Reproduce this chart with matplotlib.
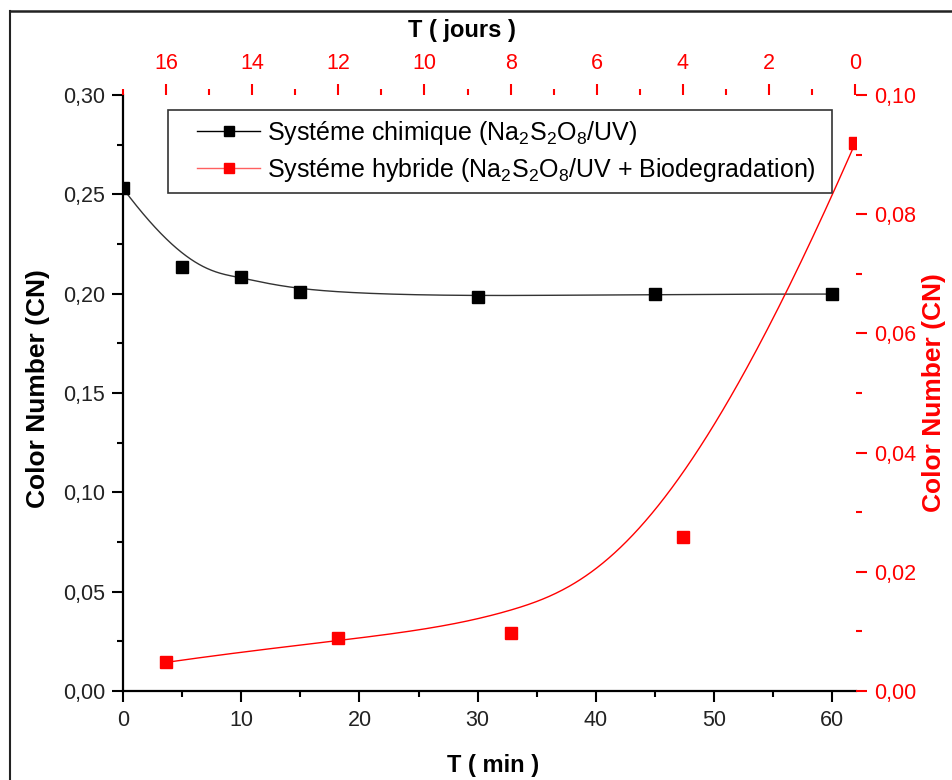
import numpy as np
import matplotlib
matplotlib.use("Agg")
import matplotlib.pyplot as plt
from matplotlib.lines import Line2D
from matplotlib.legend_handler import HandlerLine2D
from matplotlib.ticker import FuncFormatter, MultipleLocator

plt.rcParams['font.family'] = ['Liberation Sans', 'DejaVu Sans']
plt.rcParams['mathtext.fontset'] = 'custom'
plt.rcParams['mathtext.rm'] = 'Liberation Sans'
plt.rcParams['mathtext.it'] = 'Liberation Sans:italic'

# chemical system (Na2S2O8/UV), time in minutes
t_min = [0, 5, 10, 15, 30, 45, 60]
cn_chim = [0.253, 0.2133, 0.2085, 0.2008, 0.1983, 0.1998, 0.1998]

# hybrid system (+ biodegradation), time in days
t_jours = [16, 12, 8, 4, 0]
cn_hyb = [0.0048, 0.0089, 0.0098, 0.0258, 0.0919]

lbl_chim = "Systéme chimique (Na$_2$S$_2$O$_8$/UV)"
lbl_hyb = "Systéme hybride (Na$_2$S$_2$O$_8$/UV + Biodegradation)"

RED = "#ff0000"


def comma(fmt):
    return FuncFormatter(lambda v, p: format(v, fmt).replace('.', ','))


def bspline(xc, yc, n=400, k=3):
    # clamped uniform B-spline using the data points as control points
    P = np.column_stack([xc, yc]).astype(float)
    m = len(P)
    knots = np.concatenate([np.zeros(k), np.linspace(0, 1, m - k + 1), np.ones(k)])
    u = np.linspace(0, 1, n)
    N = np.zeros((n, len(knots) - 1))
    for i in range(len(knots) - 1):
        N[:, i] = (knots[i] <= u) & (u < knots[i + 1])
    N[u >= 1, m - 1] = 1
    for d in range(1, k + 1):
        Nn = np.zeros((n, len(knots) - 1 - d))
        for i in range(len(knots) - 1 - d):
            a = knots[i + d] - knots[i]
            b = knots[i + d + 1] - knots[i + 1]
            left = (u - knots[i]) / a * N[:, i] if a > 0 else 0
            right = (knots[i + d + 1] - u) / b * N[:, i + 1] if b > 0 else 0
            Nn[:, i] = left + right
        N = Nn
    C = N @ P
    return C[:, 0], C[:, 1]


class IndentedLine(HandlerLine2D):
    # legend sample line pushed a bit to the right inside its slot
    indent = 15

    def create_artists(self, legend, orig_handle, xdescent, ydescent,
                       width, height, fontsize, trans):
        return super().create_artists(legend, orig_handle, xdescent - self.indent,
                                      ydescent, width - self.indent, height,
                                      fontsize, trans)


fig = plt.figure(figsize=(9.52, 7.8), dpi=100)
pos = [123 / 952, 89 / 780, 733 / 952, 596 / 780]

ax = fig.add_axes(pos)
ax_r = fig.add_axes(pos, frameon=False)
ax_r.patch.set_visible(False)

# black series: bottom / left axes
bx, by = bspline(t_min, cn_chim)
ax.plot(bx, by, color="#333333", lw=1.0)
ax.plot(t_min, cn_chim, ls="none", marker="s", ms=8.5, color="black")
ax.set_xlim(0, 62.0)
ax.set_ylim(0, 0.30)

# red series: top / right axes
rx, ry = bspline(t_jours, cn_hyb)
ax_r.plot(rx, ry, color=RED, lw=1.0)
ax_r.plot(t_jours, cn_hyb, ls="none", marker="s", ms=8.5, color=RED)
ax_r.set_xlim(17.0, -0.02)
ax_r.set_ylim(0, 0.10)

# spines
for s in ("top", "right"):
    ax.spines[s].set_visible(False)
for s in ("left", "bottom"):
    ax.spines[s].set_linewidth(1.6)
ax_r.xaxis.tick_top()
ax_r.yaxis.tick_right()
ax_r.xaxis.set_label_position("top")
ax_r.yaxis.set_label_position("right")
for s in ("top", "right"):
    ax_r.spines[s].set_visible(True)
    ax_r.spines[s].set_color(RED)
    ax_r.spines[s].set_linewidth(1.6)
for s in ("left", "bottom"):
    ax_r.spines[s].set_visible(False)

# ticks
ax.xaxis.set_major_locator(MultipleLocator(10))
ax.xaxis.set_minor_locator(MultipleLocator(5))
ax.yaxis.set_major_locator(MultipleLocator(0.05))
ax.yaxis.set_minor_locator(MultipleLocator(0.025))
ax.yaxis.set_major_formatter(comma(".2f"))
ax.tick_params(which="both", direction="out", width=1.5, labelsize=15.5,
               color="black", labelcolor="#222222")
ax.tick_params(which="major", length=8)
ax.tick_params(which="minor", length=4.5)
ax.tick_params(axis="x", pad=6)
ax.tick_params(axis="y", pad=5)

ax_r.xaxis.set_major_locator(MultipleLocator(2))
ax_r.xaxis.set_minor_locator(MultipleLocator(1))
ax_r.yaxis.set_major_locator(MultipleLocator(0.02))
ax_r.yaxis.set_minor_locator(MultipleLocator(0.01))
ax_r.yaxis.set_major_formatter(comma(".2f"))
ax_r.tick_params(which="both", direction="out", width=1.5, labelsize=15.5,
                 color=RED, labelcolor=RED)
ax_r.tick_params(which="major", length=8)
ax_r.tick_params(which="minor", length=4.5)
ax_r.tick_params(axis="x", pad=7)
ax_r.tick_params(axis="y", pad=5)

# labels
ax.set_xlabel("T ( min )", fontsize=17, fontweight="bold")
ax.xaxis.set_label_coords(0.505, -0.105)
ax.set_ylabel("Color Number (CN)", fontsize=19, fontweight="bold")
ax.yaxis.set_label_coords(-0.100, 0.508)
ax_r.set_xlabel("T ( jours )", fontsize=17, fontweight="bold")
ax_r.xaxis.set_label_coords(0.462, 1.097)
ax_r.set_ylabel("Color Number (CN)", fontsize=19, fontweight="bold", color=RED,
                rotation=90)
ax_r.yaxis.set_label_coords(1.090, 0.50)

handles = [
    Line2D([], [], color="black", lw=1.0, marker="s", ms=6.5),
    Line2D([], [], color="#ff6060", lw=1.0, marker="s", ms=6.5, mfc=RED, mec=RED),
]
leg = ax_r.legend(handles, [lbl_chim, lbl_hyb], loc="upper left",
                  bbox_to_anchor=(0.061, 0.84, 0.906, 0.135), mode="expand",
                  fontsize=18, frameon=True, fancybox=False, framealpha=1,
                  edgecolor="#333333", borderaxespad=0, handlelength=3.36,
                  handletextpad=0.28, labelspacing=0.38, borderpad=0.35,
                  handler_map={Line2D: IndentedLine()})
leg.get_frame().set_linewidth(1.2)
leg.set_zorder(10)

# outer frame (left and top edges)
fig.add_artist(Line2D([10 / 952, 10 / 952], [0, 1 - 11 / 780], color="#222222", lw=1.5))
fig.add_artist(Line2D([10 / 952, 1], [1 - 11 / 780, 1 - 11 / 780], color="#222222", lw=1.8))

fig.savefig("out.png", dpi=100)
